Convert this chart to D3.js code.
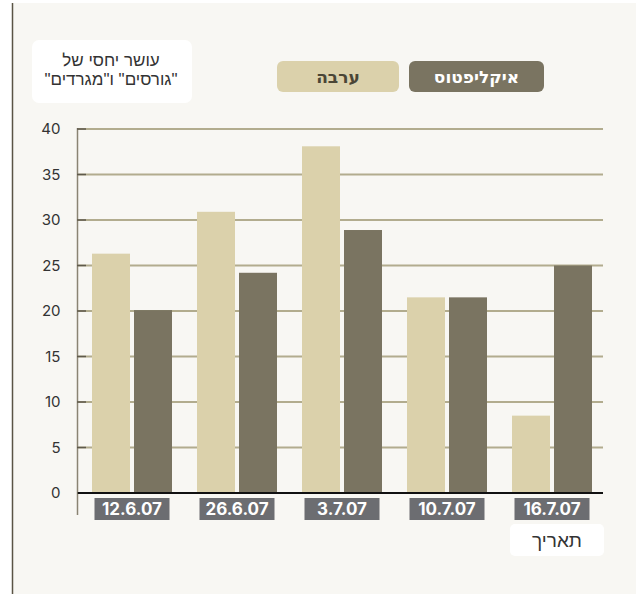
<!DOCTYPE html>
<html><head><meta charset="utf-8">
<script src="https://cdn.jsdelivr.net/npm/d3@7"></script>
<style>body{margin:0;background:#fff;}svg{display:block;font-family:"Noto Sans","DejaVu Sans",sans-serif;}</style>
</head><body><svg id="c" width="636" height="594"></svg>
<script>
const categories = ["12.6.07","26.6.07","3.7.07","10.7.07","16.7.07"];
const seriesNames = ["ערבה","איקליפטוס"];
const arava = [26.3, 30.9, 38.1, 21.5, 8.5];
const eucalyptus = [20.1, 24.2, 28.9, 21.5, 25.0];
const yTicks = [0,5,10,15,20,25,30,35,40];
const yTitleLines = ["עושר יחסי של","\"גורסים\" ו\"מגרדים\""];
const colors = ["#dbd1ab","#7a7461"];

const svg = d3.select("#c");
svg.append("rect").attr("x",12).attr("y",3).attr("width",624).attr("height",591).attr("fill","#f8f7f3");
svg.append("line").attr("x1",12.5).attr("x2",12.5).attr("y1",3).attr("y2",594).attr("stroke","#5a5445").attr("stroke-width",1.5);

const y = d3.scaleLinear().domain([0,40]).range([493,129]);
const x0 = d3.scaleBand().domain(categories).range([79.5,604.5]).paddingInner(25/105).paddingOuter(12.5/105);
const x1 = d3.scaleBand().domain(seriesNames).range([0,x0.bandwidth()]).paddingInner(4/42);

// grid
svg.append("g").selectAll("line").data(yTicks.filter(d=>d>0)).join("line")
  .attr("x1",78).attr("x2",603).attr("y1",d=>y(d)).attr("y2",d=>y(d))
  .attr("stroke","#b2ac8e").attr("stroke-width",2);

// y axis
const ya = svg.append("g").attr("transform","translate(77.5,0)")
  .call(d3.axisLeft(y).tickValues(yTicks).tickSize(0).tickPadding(17));
ya.select(".domain").remove();
ya.selectAll("text").attr("font-size",15).attr("fill","#333").attr("font-family","Inter, 'Noto Sans', sans-serif");
svg.append("line").attr("x1",77.5).attr("x2",77.5).attr("y1",128).attr("y2",515).attr("stroke","#8a8473").attr("stroke-width",1.5);
svg.append("g").selectAll("line").data(yTicks).join("line")
  .attr("x1",77).attr("x2",86).attr("y1",d=>y(d)).attr("y2",d=>y(d)).attr("stroke","#5f5a4c").attr("stroke-width",1.5);

// bars
const data = categories.map((c,i)=>({c, vals:[arava[i],eucalyptus[i]]}));
svg.append("g").selectAll("g").data(data).join("g")
  .attr("transform",d=>`translate(${x0(d.c)},0)`)
  .selectAll("rect").data(d=>d.vals.map((v,j)=>({k:seriesNames[j],v,j}))).join("rect")
  .attr("x",d=>x1(d.k)).attr("width",x1.bandwidth())
  .attr("y",d=>y(d.v)).attr("height",d=>y(0)-y(d.v)).attr("fill",d=>colors[d.j]);

// zero line
svg.append("line").attr("x1",78).attr("x2",603).attr("y1",y(0)).attr("y2",y(0)).attr("stroke","#111").attr("stroke-width",2);

// x labels
const xl = svg.append("g").selectAll("g").data(categories).join("g")
  .attr("transform",d=>`translate(${x0(d)+x0.bandwidth()/2},509)`);
xl.append("rect").attr("x",-37.5).attr("y",-11).attr("width",75).attr("height",22).attr("fill","#6c6d71");
xl.append("text").attr("text-anchor","middle").attr("dy","0.36em").attr("fill","#fff")
  .attr("font-size",17).attr("font-weight","bold").attr("font-family","Inter, 'Noto Sans', sans-serif").text(d=>d);

// y title
svg.append("rect").attr("x",32).attr("y",40).attr("width",160).attr("height",63).attr("rx",7).attr("fill","#fff");
svg.append("g").selectAll("text").data(yTitleLines).join("text")
  .attr("x",111).attr("y",(d,i)=>66+i*19).attr("text-anchor","middle").attr("font-size",17)
  .attr("font-family","'Liberation Sans', Arial, sans-serif")
  .attr("fill","#333").attr("direction","rtl").text(d=>d);

// legend
const leg = [{n:"ערבה",x:277,w:122,fill:colors[0],tc:"#4a4636"},{n:"איקליפטוס",x:409,w:135,fill:colors[1],tc:"#fff"}];
const lg = svg.append("g").selectAll("g").data(leg).join("g");
lg.append("rect").attr("x",d=>d.x).attr("y",61).attr("width",d=>d.w).attr("height",31).attr("rx",6).attr("fill",d=>d.fill);
lg.append("text").attr("x",d=>d.x+d.w/2).attr("y",77).attr("dy","0.35em").attr("text-anchor","middle")
  .attr("font-size",17).attr("font-weight","bold").attr("fill",d=>d.tc).text(d=>d.n);

// x title
svg.append("rect").attr("x",510).attr("y",524).attr("width",94).attr("height",32).attr("rx",5).attr("fill","#fff");
svg.append("text").attr("x",557).attr("y",540).attr("dy","0.35em").attr("text-anchor","middle").attr("font-size",19)
  .attr("font-family","'Liberation Sans', Arial, sans-serif").attr("fill","#333").text("תאריך");
</script></body></html>
